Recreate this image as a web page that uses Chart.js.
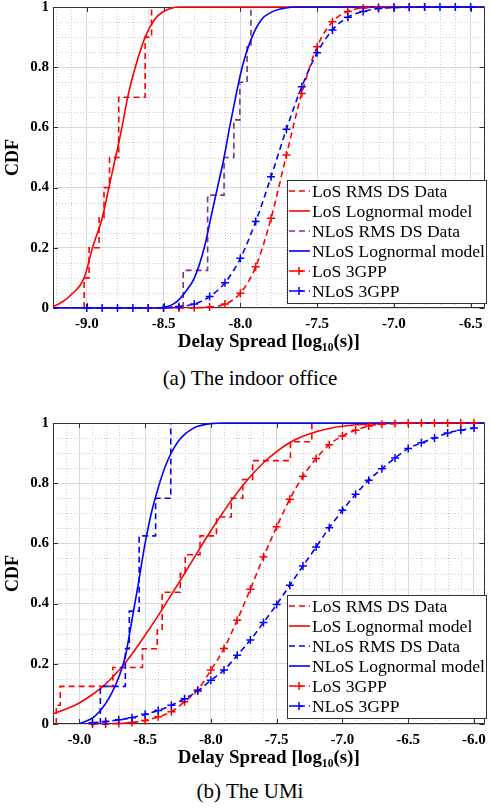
<!DOCTYPE html>
<html>
<head>
<meta charset="utf-8">
<script src="https://cdn.jsdelivr.net/npm/chart.js@4.4.1/dist/chart.umd.min.js"></script>
<style>
html,body{margin:0;padding:0;background:#fff;width:490px;height:808px;overflow:hidden}
.wrap{position:absolute;left:0;width:490px}
.cap{position:absolute;left:0;width:490px;text-align:center;font-family:"Liberation Serif",serif;font-size:21px;line-height:22px;color:#000;padding-left:10px;box-sizing:border-box}
</style>
</head>
<body>
<div class="wrap" style="top:0;height:360px"><canvas id="c1" width="490" height="360"></canvas></div>
<div class="cap" style="top:367px">(a) The indoor office</div>
<div class="wrap" style="top:400px;height:376px"><canvas id="c2" width="490" height="376"></canvas></div>
<div class="cap" style="top:780px">(b) The UMi</div>
<script>
// ---------- (a) indoor office ----------
const topLosDataX = [-9.017, -8.985, -8.92, -8.888, -8.852, -8.792, -8.62, -8.578];
const topLosDataY = [0.1, 0.2, 0.3, 0.4, 0.5, 0.7, 0.9, 1.0];
const topLosModelX = [-9.22, -9.16, -9.10, -9.017, -8.963, -8.899, -8.856, -8.813, -8.771, -8.734, -8.684, -8.62, -8.556, -8.5, -8.45, -8.4, -6.41];
const topLosModelY = [0.004, 0.02, 0.045, 0.1, 0.2, 0.3, 0.4, 0.5, 0.6, 0.7, 0.8, 0.9, 0.96, 0.985, 0.996, 1.0, 1.0];
const topNlosDataX = [-8.372, -8.213, -8.106, -8.042, -8.003, -7.956, -7.931];
const topNlosDataY = [0.125, 0.375, 0.5, 0.625, 0.75, 0.875, 1.0];
const topNlosModelX = [-9.22, -8.55, -8.492, -8.44, -8.4, -8.363, -8.299, -8.235, -8.192, -8.149, -8.106, -8.07, -8.031, -7.988, -7.924, -7.859, -7.8, -7.763, -7.7, -7.656, -6.41];
const topNlosModelY = [0, 0, 0.003, 0.012, 0.028, 0.05, 0.1, 0.2, 0.3, 0.4, 0.5, 0.6, 0.7, 0.8, 0.9, 0.96, 0.982, 0.99, 0.997, 1.0, 1.0];
const topLos3gppX = [-8.6, -8.5, -8.4, -8.3, -8.2, -8.1, -8.0, -7.9, -7.8, -7.7, -7.6, -7.5, -7.4, -7.3, -7.2, -7.1, -7.0, -6.9, -6.8];
const topLos3gppY = [0, 0, 0, 0.001, 0.003, 0.013, 0.049, 0.137, 0.298, 0.508, 0.713, 0.868, 0.951, 0.985, 0.997, 0.999, 1, 1, 1];
const topNlos3gppX = [-9.0, -8.9, -8.8, -8.7, -8.6, -8.5, -8.4, -8.3, -8.2, -8.1, -8.0, -7.9, -7.8, -7.7, -7.6, -7.5, -7.4, -7.3, -7.2, -7.1, -7.0, -6.9, -6.8, -6.7, -6.6, -6.5];
const topNlos3gppY = [0, 0, 0, 0, 0, 0.001, 0.005, 0.013, 0.038, 0.084, 0.165, 0.287, 0.436, 0.594, 0.735, 0.848, 0.924, 0.966, 0.985, 0.995, 0.998, 0.999, 1, 1, 1, 1];

// ---------- (b) UMi ----------
const botLosDataX = [-9.175, -9.145, -8.745, -8.52, -8.4075, -8.37, -8.2325, -8.195, -8.0825, -7.9575, -7.845, -7.7575, -7.6825, -7.395, -7.2325];
const botLosDataY = [0.0625, 0.125, 0.1875, 0.25, 0.3125, 0.4375, 0.5, 0.5625, 0.625, 0.6875, 0.75, 0.8125, 0.875, 0.9375, 1.0];
const botLosModelX = [-9.2, -9.1, -9.0, -8.9, -8.8, -8.7, -8.6, -8.5, -8.4, -8.3, -8.2, -8.1, -8.0, -7.9, -7.8, -7.7, -7.6, -7.5, -7.4, -7.3, -7.2, -7.1, -7.0, -6.9, -6.8, -6.6, -6.4, -5.92];
const botLosModelY = [0.034, 0.05, 0.07, 0.098, 0.133, 0.178, 0.232, 0.295, 0.36, 0.43, 0.5, 0.572, 0.642, 0.708, 0.768, 0.822, 0.868, 0.905, 0.935, 0.956, 0.971, 0.982, 0.989, 0.994, 0.997, 0.999, 1.0, 1.0];
const botNlosDataX = [-8.84, -8.65, -8.62, -8.545, -8.42, -8.305];
const botNlosDataY = [0.125, 0.25, 0.375, 0.625, 0.75, 1.0];
const botNlosModelX = [-9.0, -8.95, -8.9, -8.85, -8.8, -8.75, -8.7, -8.65, -8.6, -8.55, -8.5, -8.45, -8.4, -8.35, -8.3, -8.25, -8.2, -8.15, -8.1, -8.0, -7.9, -5.92];
const botNlosModelY = [0.002, 0.009, 0.02, 0.04, 0.068, 0.106, 0.155, 0.225, 0.345, 0.47, 0.6, 0.705, 0.785, 0.852, 0.902, 0.938, 0.962, 0.978, 0.989, 0.998, 1.0, 1.0];
const botLos3gppX = [-8.9, -8.8, -8.7, -8.6, -8.5, -8.4, -8.3, -8.2, -8.1, -8.0, -7.9, -7.8, -7.7, -7.6, -7.5, -7.4, -7.3, -7.2, -7.1, -7.0, -6.9, -6.8, -6.7, -6.6, -6.5, -6.4, -6.3, -6.2, -6.1, -6.0];
const botLos3gppY = [0, 0, 0.002, 0.005, 0.012, 0.024, 0.041, 0.074, 0.113, 0.179, 0.251, 0.345, 0.448, 0.555, 0.655, 0.747, 0.823, 0.882, 0.928, 0.957, 0.976, 0.99, 0.996, 0.998, 1, 1, 1, 1, 1, 1];
const botNlos3gppX = [-8.9, -8.8, -8.7, -8.6, -8.5, -8.4, -8.3, -8.2, -8.1, -8.0, -7.9, -7.8, -7.7, -7.6, -7.5, -7.4, -7.3, -7.2, -7.1, -7.0, -6.9, -6.8, -6.7, -6.6, -6.5, -6.4, -6.3, -6.2, -6.1, -6.0];
const botNlos3gppY = [0.004, 0.008, 0.014, 0.021, 0.032, 0.045, 0.062, 0.084, 0.11, 0.145, 0.179, 0.228, 0.279, 0.337, 0.397, 0.461, 0.525, 0.588, 0.652, 0.71, 0.763, 0.81, 0.848, 0.884, 0.915, 0.934, 0.95, 0.967, 0.976, 0.983];

const seriesLabels = ['LoS RMS DS Data', 'LoS Lognormal model', 'NLoS RMS DS Data', 'NLoS Lognormal model', 'LoS 3GPP', 'NLoS 3GPP'];
const yTickValues = [0, 0.2, 0.4, 0.6, 0.8, 1];

const RED = '#ff0000', BLUE = '#0000ff', PURPLE = '#7e2f8e';
const SERIF = '"Liberation Serif", "Times New Roman", serif';

function stepPoints(xs, ys) {
  const pts = [{x: xs[0], y: 0}];
  xs.forEach((x, i) => pts.push({x: x, y: ys[i]}));
  return pts;
}
function pairPoints(xs, ys) { return xs.map((x, i) => ({x: x, y: ys[i]})); }

function dataDs(label, pts, color, order) {
  return {label, data: pts, borderColor: color, backgroundColor: color, borderWidth: 1.6,
    borderDash: [6, 4], stepped: 'before', pointRadius: 0, fill: false, clip: false, order};
}
function modelDs(label, pts, color, order) {
  return {label, data: pts, borderColor: color, backgroundColor: color, borderWidth: 1.6,
    borderDash: [], cubicInterpolationMode: 'monotone', pointRadius: 0, fill: false, clip: false, order};
}
function gppDs(label, pts, color, order) {
  return {label, data: pts, borderColor: color, backgroundColor: color, borderWidth: 1.6,
    borderDash: [6, 4], cubicInterpolationMode: 'monotone', pointStyle: 'cross', pointRadius: 4,
    pointBorderWidth: 1.5, pointBorderColor: color, pointBackgroundColor: color, fill: false, clip: false, order};
}

const framePlugin = {
  id: 'frame',
  beforeDatasetsDraw(chart) {
    const {ctx, chartArea: a} = chart;
    const x = chart.scales.x, y = chart.scales.y;
    ctx.save();
    ctx.strokeStyle = '#cccccc';
    ctx.lineWidth = 1;
    ctx.setLineDash([1, 2]);
    for (let k = Math.ceil(x.min * 10 - 1e-6); k <= Math.floor(x.max * 10 + 1e-6); k++) {
      if (Math.abs(k % 5) === 0) continue;
      const px = Math.round(x.getPixelForValue(k / 10)) + 0.5;
      ctx.beginPath(); ctx.moveTo(px, a.top); ctx.lineTo(px, a.bottom); ctx.stroke();
    }
    for (let k = 1; k < 20; k++) {
      if (k % 4 === 0) continue;
      const py = Math.round(y.getPixelForValue(k / 20)) + 0.5;
      ctx.beginPath(); ctx.moveTo(a.left, py); ctx.lineTo(a.right, py); ctx.stroke();
    }
    ctx.setLineDash([]);
    ctx.strokeStyle = '#303030';
    ctx.lineWidth = 1;
    ctx.strokeRect(Math.round(a.left) + 0.5, Math.round(a.top) + 0.5, Math.round(a.width) - 1, Math.round(a.height) - 1);
    const tl = 5;
    ctx.beginPath();
    x.ticks.forEach(t => {
      const px = Math.round(x.getPixelForValue(t.value)) + 0.5;
      ctx.moveTo(px, a.bottom); ctx.lineTo(px, a.bottom - tl);
      ctx.moveTo(px, a.top); ctx.lineTo(px, a.top + tl);
    });
    y.ticks.forEach(t => {
      const py = Math.round(y.getPixelForValue(t.value)) + 0.5;
      ctx.moveTo(a.left, py); ctx.lineTo(a.left + tl, py);
      ctx.moveTo(a.right, py); ctx.lineTo(a.right - tl, py);
    });
    ctx.stroke();
    ctx.restore();
  }
};

const legendPlugin = {
  id: 'boxLegend',
  afterDatasetsDraw(chart, args, opts) {
    const {ctx} = chart;
    const x0 = opts.x0, y0 = opts.y0, w = opts.w, h = opts.h;
    ctx.save();
    ctx.fillStyle = '#ffffff';
    ctx.fillRect(x0, y0, w, h);
    ctx.strokeStyle = '#333333';
    ctx.lineWidth = 1;
    ctx.strokeRect(x0 + 0.5, y0 + 0.5, w, h);
    chart.data.datasets.forEach((d, i) => {
      const cy = y0 + 11 + i * 20;
      ctx.strokeStyle = d.borderColor;
      ctx.lineWidth = d.borderWidth;
      ctx.setLineDash(d.borderDash || []);
      ctx.beginPath(); ctx.moveTo(x0 + 2, cy); ctx.lineTo(x0 + 23, cy); ctx.stroke();
      ctx.setLineDash([]);
      if (d.pointRadius > 0) {
        const r = d.pointRadius, cx = x0 + 12;
        ctx.lineWidth = d.pointBorderWidth;
        ctx.beginPath();
        ctx.moveTo(cx - r, cy); ctx.lineTo(cx + r, cy);
        ctx.moveTo(cx, cy - r); ctx.lineTo(cx, cy + r);
        ctx.stroke();
      }
      ctx.fillStyle = '#000';
      ctx.font = '17.6px ' + SERIF;
      ctx.textBaseline = 'middle';
      ctx.textAlign = 'left';
      ctx.fillText(d.label, x0 + 25, cy + 1);
    });
    ctx.restore();
  }
};

function makeChart(id, datasets, xmin, xmax, topPad, canvasH, bottomY, legendPos) {
  const tickFont = {family: SERIF, size: 15, weight: 'bold'};
  return new Chart(document.getElementById(id), {
    type: 'line',
    data: {datasets},
    options: {
      responsive: false, animation: false, devicePixelRatio: 1, events: [],
      layout: {padding: {top: topPad, left: 0, right: 0, bottom: 0}},
      plugins: {legend: {display: false}, tooltip: {enabled: false}, boxLegend: legendPos},
      scales: {
        x: {
          type: 'linear', min: xmin, max: xmax,
          afterFit(s) { s.height = canvasH - bottomY; s.paddingLeft = 0; s.paddingRight = 0; },
          ticks: {stepSize: 0.5, includeBounds: false, autoSkip: false, maxRotation: 0, padding: 7,
            color: '#000', font: tickFont, callback: v => v.toFixed(1)},
          grid: {color: '#d9d9d9', lineWidth: 1, drawTicks: false},
          border: {display: false},
          title: {display: true, text: 'Delay Spread [log\u2081\u2080(s)]', color: '#000',
            font: {family: SERIF, size: 19, weight: 'bold'}, padding: {top: 0, bottom: 7}}
        },
        y: {
          type: 'linear', min: 0, max: 1,
          afterFit(s) { s.width = 53; s.paddingTop = 0; s.paddingBottom = 0; },
          afterBuildTicks(s) { s.ticks = yTickValues.map(v => ({value: v})); },
          ticks: {padding: 4, color: '#000', font: tickFont,
            callback: v => (v === 0 || v === 1) ? String(v) : v.toFixed(1)},
          grid: {color: '#d9d9d9', lineWidth: 1, drawTicks: false},
          border: {display: false},
          title: {display: true, text: 'CDF', color: '#000',
            font: {family: SERIF, size: 18, weight: 'bold'}, padding: {top: 3, bottom: 0}}
        }
      }
    },
    plugins: [framePlugin, legendPlugin]
  });
}

makeChart('c1', [
  dataDs(seriesLabels[0], stepPoints(topLosDataX, topLosDataY), RED, 6),
  modelDs(seriesLabels[1], pairPoints(topLosModelX, topLosModelY), RED, 5),
  dataDs(seriesLabels[2], stepPoints(topNlosDataX, topNlosDataY), PURPLE, 4),
  modelDs(seriesLabels[3], pairPoints(topNlosModelX, topNlosModelY), BLUE, 3),
  gppDs(seriesLabels[4], pairPoints(topLos3gppX, topLos3gppY), RED, 2),
  gppDs(seriesLabels[5], pairPoints(topNlos3gppX, topNlos3gppY), BLUE, 1)
], -9.22, -6.41, 7, 360, 308, {x0: 287, y0: 180, w: 199, h: 123});

makeChart('c2', [
  dataDs(seriesLabels[0], stepPoints(botLosDataX, botLosDataY), RED, 6),
  modelDs(seriesLabels[1], pairPoints(botLosModelX, botLosModelY), RED, 5),
  dataDs(seriesLabels[2], stepPoints(botNlosDataX, botNlosDataY), BLUE, 4),
  modelDs(seriesLabels[3], pairPoints(botNlosModelX, botNlosModelY), BLUE, 3),
  gppDs(seriesLabels[4], pairPoints(botLos3gppX, botLos3gppY), RED, 2),
  gppDs(seriesLabels[5], pairPoints(botNlos3gppX, botNlos3gppY), BLUE, 1)
], -9.2, -5.92, 23, 376, 324, {x0: 287, y0: 195, w: 199, h: 123});
</script>
</body>
</html>
